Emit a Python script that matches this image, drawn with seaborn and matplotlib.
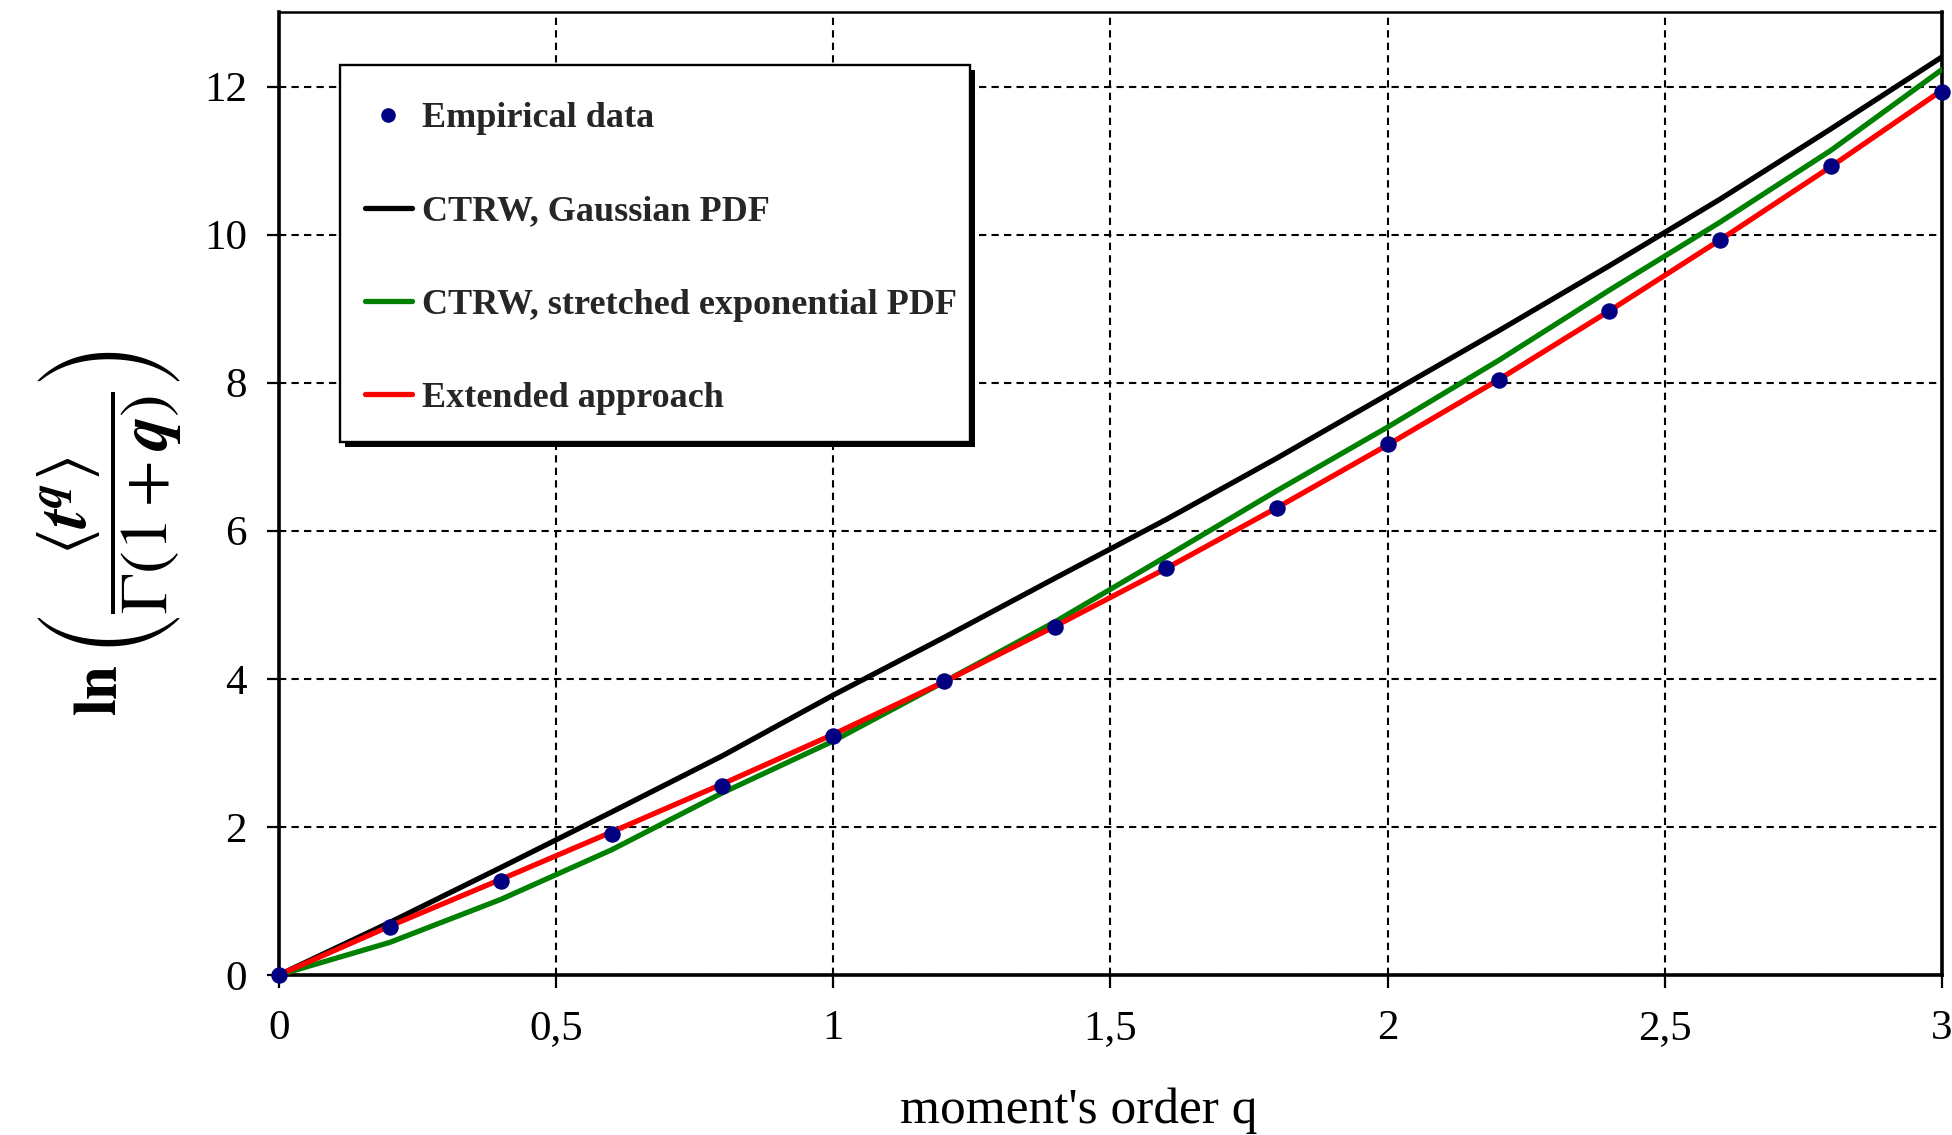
import numpy as np
import pandas as pd
import matplotlib
matplotlib.use("Agg")
import matplotlib.pyplot as plt
import seaborn as sns
from matplotlib.lines import Line2D
from matplotlib.patches import Rectangle

# ---- data ----
q_emp = [0.0, 0.2, 0.4, 0.6, 0.8, 1.0, 1.2, 1.4, 1.6, 1.8, 2.0, 2.2, 2.4, 2.6, 2.8, 3.0]
empirical = [0.0, 0.65, 1.27, 1.90, 2.55, 3.23, 3.97, 4.70, 5.50, 6.31, 7.17, 8.04, 8.97, 9.93, 10.92, 11.93]

q_model = [0.0, 0.2, 0.4, 0.6, 0.8, 1.0, 1.2, 1.4, 1.6, 1.8, 2.0, 2.2, 2.4, 2.6, 2.8, 3.0]
gaussian = [0.0, 0.71, 1.45, 2.20, 2.96, 3.78, 4.56, 5.36, 6.15, 6.98, 7.84, 8.70, 9.58, 10.48, 11.43, 12.40]
stretched = [0.0, 0.44, 1.02, 1.69, 2.46, 3.16, 3.96, 4.77, 5.65, 6.54, 7.40, 8.30, 9.25, 10.17, 11.14, 12.23]
extended = [0.0, 0.66, 1.29, 1.93, 2.58, 3.25, 3.96, 4.71, 5.49, 6.31, 7.16, 8.04, 8.97, 9.93, 10.92, 11.95]

x_ticks = [0, 0.5, 1, 1.5, 2, 2.5, 3]
x_tick_labels = ["0", "0,5", "1", "1,5", "2", "2,5", "3"]
y_ticks = [0, 2, 4, 6, 8, 10, 12]
y_tick_labels = ["0", "2", "4", "6", "8", "10", "12"]

labels = ["Empirical data", "CTRW, Gaussian PDF",
          "CTRW, stretched exponential PDF", "Extended approach"]

# ---- style ----
sns.set_theme(style="white")
plt.rcParams["font.family"] = ["Liberation Serif", "DejaVu Serif"]
plt.rcParams["mathtext.fontset"] = "stix"

fig = plt.figure(figsize=(19.52, 11.35), dpi=100)
ax = fig.add_axes([0.1429, 0.1410, 0.852, 0.848])

lw = 3.8
sns.lineplot(x=q_model, y=gaussian, color="black", linewidth=lw, ax=ax, zorder=3)
sns.lineplot(x=q_model, y=stretched, color="#008000", linewidth=lw, ax=ax, zorder=3)
sns.lineplot(x=q_model, y=extended, color="#ff0000", linewidth=lw, ax=ax, zorder=4)
sns.scatterplot(x=q_emp, y=empirical, color="#000080", edgecolor="#000080",
                s=120, ax=ax, zorder=6, clip_on=False)

ax.set_xlim(0, 3)
ax.set_ylim(0, 13)
ax.set_xticks(x_ticks)
ax.set_xticklabels(x_tick_labels)
ax.set_yticks(y_ticks)
ax.set_yticklabels(y_tick_labels)

ax.grid(True, color="black", linestyle=(0, (3.5, 2.5)), linewidth=1.5)
ax.set_axisbelow(True)

for s in ["left", "bottom", "right"]:
    ax.spines[s].set_linewidth(2.6)
    ax.spines[s].set_color("black")
ax.spines["top"].set_linewidth(1.8)
ax.spines["top"].set_color("black")

ax.tick_params(axis="both", which="major", direction="out", length=9, width=1.6,
               color="black", labelsize=31, labelcolor="black")
ax.tick_params(axis="x", pad=16, bottom=True)
ax.tick_params(axis="y", pad=14, left=True)

ax.set_xlabel("moment's order q", fontsize=37, color="black")
ax.xaxis.set_label_coords(0.481, -0.117)

# y label: fraction inside large parentheses, with "ln" in front
ax.set_ylabel(r"$\left(\dfrac{\langle \mathbfit{t}^{\mathbfit{q}} \rangle}{\Gamma(1+\mathbfit{q})}\right)$",
              fontsize=49, color="black")
ax.yaxis.set_label_coords(-0.057, 0.49)
fig.text(0.052, 0.392, r"$\mathbf{ln}$", rotation=90, fontsize=44,
         ha="center", va="center", color="black")

# legend frame (box with a hard black drop shadow)
box_x0, box_y0, box_w, box_h = 0.0367, 0.554, 0.379, 0.3915
shadow = Rectangle((box_x0 + 0.003, box_y0 - 0.0055), box_w, box_h, transform=ax.transAxes,
                   facecolor="black", edgecolor="black", linewidth=0, zorder=8.9, clip_on=False)
frame = Rectangle((box_x0, box_y0), box_w, box_h, transform=ax.transAxes,
                  facecolor="white", edgecolor="black", linewidth=1.7, zorder=9, clip_on=False)
ax.add_patch(shadow)
ax.add_patch(frame)

handles = [
    Line2D([], [], marker="o", linestyle="none", color="#000080", markersize=9.5),
    Line2D([], [], color="black", linewidth=lw),
    Line2D([], [], color="#008000", linewidth=lw),
    Line2D([], [], color="#ff0000", linewidth=lw),
]
leg = ax.legend(handles, labels, loc="upper left", bbox_to_anchor=(0.0517, 0.907),
                borderaxespad=0, prop={"family": "Liberation Serif", "weight": "bold", "size": 26},
                frameon=False, handlelength=1.3, handletextpad=0.28, labelspacing=1.66,
                borderpad=0)
leg.set_zorder(10)

fig.savefig("out.png", dpi=100, facecolor="white")
